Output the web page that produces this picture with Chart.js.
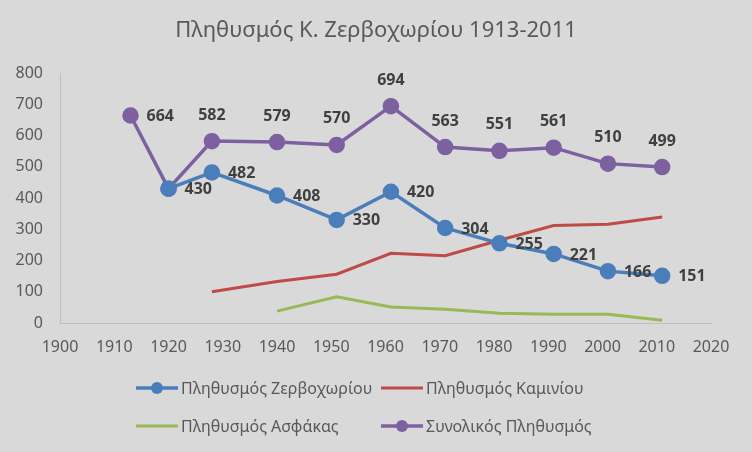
<!DOCTYPE html>
<html>
<head>
<meta charset="utf-8">
<script src="https://cdn.jsdelivr.net/npm/chart.js@4.4.1/dist/chart.umd.min.js"></script>
<style>
  html, body { margin: 0; padding: 0; background: #d9d9d9; }
  #wrap { width: 752px; height: 452px; }
</style>
</head>
<body>
<div id="wrap"><canvas id="chart"></canvas></div>
<script>
// census years
const years = [1913, 1920, 1928, 1940, 1951, 1961, 1971, 1981, 1991, 2001, 2011];
const zervochori = [null, 430, 482, 408, 330, 420, 304, 255, 221, 166, 151];
const kaminio = [null, null, 100, 133, 156, 223, 215, 265, 312, 316, 339];
const asfakas = [null, null, null, 38, 84, 51, 44, 31, 28, 28, 9];
const total = [664, 430, 582, 579, 570, 694, 563, 551, 561, 510, 499];

const seriesNames = ['Πληθυσμός Ζερβοχωρίου', 'Πληθυσμός Καμινίου', 'Πληθυσμός Ασφάκας', 'Συνολικός Πληθυσμός'];
const chartTitle = 'Πληθυσμός Κ. Ζερβοχωρίου 1913-2011';
const FONT = '"Noto Sans", sans-serif';

function toPoints(values) {
    return years.map((y, i) => ({ x: y, y: values[i] })).filter(p => p.y !== null);
}

// title centred on the whole canvas (built-in one centres on the padded box)
const canvasTitle = {
    id: 'canvasTitle',
    afterDraw(chart) {
        const ctx = chart.ctx;
        ctx.save();
        ctx.font = '22px ' + FONT;
        ctx.fillStyle = '#595959';
        ctx.textAlign = 'center';
        ctx.textBaseline = 'middle';
        ctx.fillText(chartTitle, chart.width / 2, 31);
        ctx.restore();
    }
};

// value labels next to the markers
const valueLabels = {
    id: 'valueLabels',
    afterDatasetsDraw(chart) {
        const ctx = chart.ctx;
        ctx.save();
        ctx.font = 'bold 16px ' + FONT;
        ctx.fillStyle = '#404040';
        ctx.textBaseline = 'middle';
        chart.data.datasets.forEach((ds, i) => {
            if (!ds.labelPos) return;
            chart.getDatasetMeta(i).data.forEach((el, j) => {
                const pos = ds.labelPos(j);
                if (!pos) return;
                const v = String(ds.data[j].y);
                if (pos === 'right') {
                    ctx.textAlign = 'left';
                    ctx.fillText(v, el.x + 16, el.y + 1);
                } else {
                    ctx.textAlign = 'center';
                    ctx.fillText(v, el.x, el.y - 26);
                }
            });
        });
        ctx.restore();
    }
};

// two-column legend like the original
const gridLegend = {
    id: 'gridLegend',
    afterDraw(chart) {
        const ctx = chart.ctx;
        const cols = [136, 381];
        const rows = [388, 426];
        ctx.save();
        ctx.font = '16px ' + FONT;
        ctx.textBaseline = 'middle';
        ctx.textAlign = 'left';
        chart.data.datasets.forEach((ds, i) => {
            const x = cols[i % 2];
            const y = rows[Math.floor(i / 2)];
            ctx.strokeStyle = ds.borderColor;
            ctx.lineWidth = ds.borderWidth;
            ctx.beginPath();
            ctx.moveTo(x, y);
            ctx.lineTo(x + 42, y);
            ctx.stroke();
            if (ds.pointRadius > 0) {
                ctx.fillStyle = ds.borderColor;
                ctx.beginPath();
                ctx.arc(x + 21, y, 6, 0, Math.PI * 2);
                ctx.fill();
            }
            ctx.fillStyle = '#595959';
            ctx.fillText(ds.label, x + 45, y + 1);
        });
        ctx.restore();
    }
};

new Chart(document.getElementById('chart'), {
    type: 'line',
    data: {
        datasets: [{
            label: seriesNames[0],
            data: toPoints(zervochori),
            borderColor: '#4a7ebb',
            backgroundColor: '#4a7ebb',
            borderWidth: 3.5,
            pointRadius: 6.5,
            pointHoverRadius: 6.5,
            labelPos: () => 'right'
        }, {
            label: seriesNames[1],
            data: toPoints(kaminio),
            borderColor: '#be4b48',
            backgroundColor: '#be4b48',
            borderWidth: 3,
            pointRadius: 0
        }, {
            label: seriesNames[2],
            data: toPoints(asfakas),
            borderColor: '#98b954',
            backgroundColor: '#98b954',
            borderWidth: 3,
            pointRadius: 0
        }, {
            label: seriesNames[3],
            data: toPoints(total),
            borderColor: '#7d60a0',
            backgroundColor: '#7d60a0',
            borderWidth: 3.5,
            pointRadius: 6.5,
            pointHoverRadius: 6.5,
            labelPos: j => (j === 0 ? 'right' : j === 1 ? null : 'top')
        }]
    },
    options: {
        responsive: true,
        maintainAspectRatio: false,
        animation: false,
        layout: { padding: { left: 0, right: 41, top: 73, bottom: 84 } },
        plugins: {
            legend: { display: false },
            tooltip: { enabled: false },
            title: { display: false }
        },
        scales: {
            x: {
                type: 'linear',
                min: 1900,
                max: 2020,
                grid: { display: false, drawTicks: false },
                border: { color: '#bfbfbf', width: 1 },
                ticks: {
                    stepSize: 10,
                    padding: 15,
                    color: '#595959',
                    font: { family: FONT, size: 16 },
                    callback: v => String(v)
                },
                afterFit: s => { s.height = 45; }
            },
            y: {
                min: 0,
                max: 800,
                grid: { display: false, drawTicks: false },
                border: { color: '#bfbfbf', width: 1 },
                ticks: {
                    stepSize: 100,
                    padding: 17,
                    color: '#595959',
                    font: { family: FONT, size: 16 }
                },
                afterFit: s => { s.width = 60; }
            }
        }
    },
    plugins: [valueLabels, gridLegend, canvasTitle]
});
</script>
</body>
</html>
